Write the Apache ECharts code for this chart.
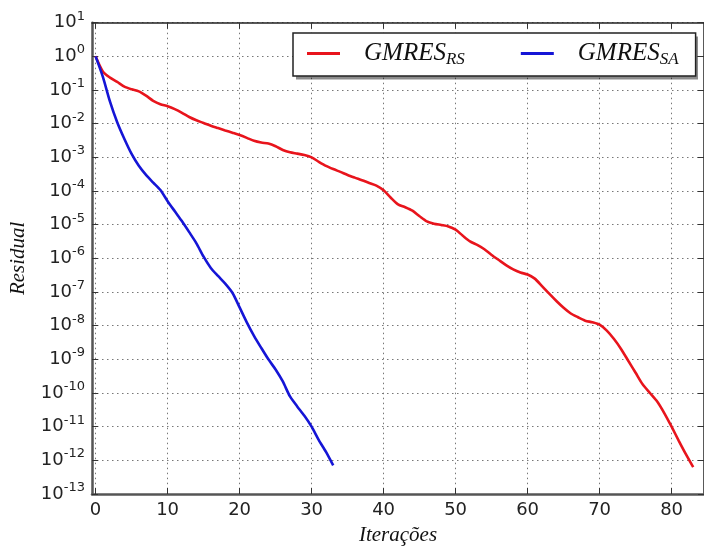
<!DOCTYPE html>
<html>
<head>
<meta charset="utf-8">
<script src="https://cdn.jsdelivr.net/npm/echarts@6/dist/echarts.min.js"></script>
<style>
html,body{margin:0;padding:0;background:#fff;}
#c{width:704px;height:551px;}
</style>
</head>
<body>
<div id="c"></div>
<script>
const iterRS = Array.from({length: 84}, (_, i) => i);
const iterSA = Array.from({length: 34}, (_, i) => i);
const residualRS = [
  1, 0.355, 0.234, 0.174, 0.126, 0.105, 0.091, 0.068, 0.048, 0.038,
  0.033, 0.027, 0.021, 0.0158, 0.0126, 0.0105, 8.7e-3, 7.4e-3, 6.3e-3, 5.4e-3,
  4.6e-3, 3.8e-3, 3.1e-3, 2.75e-3, 2.57e-3, 2.14e-3, 1.66e-3, 1.41e-3, 1.29e-3, 1.17e-3,
  1.0e-3, 7.4e-4, 5.6e-4, 4.5e-4, 3.7e-4, 3.0e-4, 2.5e-4, 2.1e-4, 1.74e-4, 1.45e-4,
  1.05e-4, 6.3e-5, 4.0e-5, 3.3e-5, 2.6e-5, 1.78e-5, 1.26e-5, 1.07e-5, 9.8e-6, 8.9e-6,
  7.1e-6, 4.7e-6, 3.2e-6, 2.5e-6, 1.86e-6, 1.26e-6, 8.9e-7, 6.3e-7, 4.7e-7, 3.8e-7,
  3.3e-7, 2.5e-7, 1.5e-7, 8.9e-8, 5.4e-8, 3.4e-8, 2.3e-8, 1.78e-8, 1.41e-8, 1.26e-8,
  1.07e-8, 7.1e-9, 4.0e-9, 2.0e-9, 8.9e-10, 4.0e-10, 1.78e-10, 1.0e-10, 5.6e-11, 2.5e-11,
  1.0e-11, 3.8e-12, 1.5e-12, 6.3e-13
];
const residualSA = [
  1, 0.25, 0.045, 0.011, 3.5e-3, 1.26e-3, 5.6e-4, 3.0e-4, 1.78e-4, 1.07e-4,
  5.0e-5, 2.5e-5, 1.26e-5, 6.0e-6, 2.8e-6, 1.12e-6, 5.2e-7, 3.0e-7, 1.78e-7, 0.95e-7,
  3.5e-8, 1.26e-8, 5.0e-9, 2.2e-9, 1.0e-9, 5.0e-10, 2.2e-10, 7.9e-11, 4.0e-11, 2.1e-11,
  1.0e-11, 4.0e-12, 1.78e-12, 7.1e-13
];
const xTicks = [0, 10, 20, 30, 40, 50, 60, 70, 80];
const yExponents = [1, 0, -1, -2, -3, -4, -5, -6, -7, -8, -9, -10, -11, -12, -13];
const seriesNames = ['GMRES_RS', 'GMRES_SA'];
const legendLabels = {GMRES_RS: ['GMRES', 'RS'], GMRES_SA: ['GMRES', 'SA']};

const yTickValues = yExponents.map(e => Math.pow(10, e));
const chart = echarts.init(document.getElementById('c'), null, {renderer: 'canvas'});

const gridLine = {show: true, lineStyle: {color: '#777', width: 1, type: [1.5, 3.5]}};
const yLabel = {
  show: true, margin: 7, color: '#222',
  formatter: v => '{b|10}{s|' + Math.round(Math.log10(v)) + '}',
  rich: {
    b: {fontFamily: 'DejaVu Sans', fontSize: 18, color: '#222'},
    s: {fontFamily: 'DejaVu Sans', fontSize: 13, color: '#222', padding: [0, 0, 13, 0]}
  }
};

chart.setOption({
  backgroundColor: '#fff',
  animation: false,
  grid: {left: 90, right: 0, top: 22.7, bottom: 51.7},
  graphic: [{
    type: 'rect', z: 3, silent: true,
    shape: {x: 296, y: 36.5, width: 402, height: 43},
    style: {fill: 'rgba(0,0,0,0.45)'}
  }],
  legend: {
    left: 293, top: 33, z: 4,
    data: seriesNames,
    icon: 'rect', itemWidth: 33, itemHeight: 3, itemGap: 56,
    padding: [8, 17, 8, 14],
    backgroundColor: '#fff', borderColor: '#222', borderWidth: 1.5, borderRadius: 0,
    formatter: name => '{a|' + legendLabels[name][0] + '}{r|' + legendLabels[name][1] + '}',
    textStyle: {
      rich: {
        a: {fontFamily: 'Liberation Serif', fontStyle: 'italic', fontSize: 25, color: '#111', padding: [0, 0, 0, 19]},
        r: {fontFamily: 'Liberation Serif', fontStyle: 'italic', fontSize: 17, color: '#111', padding: [12, 0, 0, 0]}
      }
    }
  },
  xAxis: [{
    type: 'value', min: -0.5, max: 84.5,
    name: 'Iterações', nameLocation: 'middle', nameGap: 31,
    nameTextStyle: {fontFamily: 'Liberation Serif', fontStyle: 'italic', fontSize: 21, color: '#111'},
    axisLine: {show: true, onZero: false, lineStyle: {color: '#555', width: 2.5}},
    axisTick: {show: true, inside: true, length: 6, customValues: xTicks, lineStyle: {color: '#333'}},
    axisLabel: {show: true, customValues: xTicks, margin: 7, fontFamily: 'DejaVu Sans', fontSize: 18, color: '#222'},
    splitLine: gridLine
  }, {
    type: 'value', min: -0.5, max: 84.5, position: 'top',
    axisLine: {show: true, onZero: false, lineStyle: {color: '#222', width: 1.5}},
    axisTick: {show: true, inside: true, length: 6, customValues: xTicks, lineStyle: {color: '#333'}},
    axisLabel: {show: false},
    splitLine: {show: false}
  }],
  yAxis: [{
    type: 'log', logBase: 10, min: 1e-13, max: 10,
    name: 'Residual', nameLocation: 'middle', nameGap: 63, nameRotate: 90,
    nameTextStyle: {fontFamily: 'Liberation Serif', fontStyle: 'italic', fontSize: 21, color: '#111'},
    axisLine: {show: true, onZero: false, lineStyle: {color: '#555', width: 2.5}},
    axisTick: {show: true, inside: true, length: 6, customValues: yTickValues, lineStyle: {color: '#333'}},
    axisLabel: Object.assign({customValues: yTickValues}, yLabel),
    splitLine: gridLine
  }, {
    type: 'log', logBase: 10, min: 1e-13, max: 10, position: 'right',
    axisLine: {show: true, onZero: false, lineStyle: {color: '#222', width: 1.5}},
    axisTick: {show: true, inside: true, length: 6, customValues: yTickValues, lineStyle: {color: '#333'}},
    axisLabel: {show: false},
    splitLine: {show: false}
  }],
  series: [{
    name: seriesNames[0], type: 'line', showSymbol: false, smooth: 0.25,
    data: iterRS.map((x, i) => [x, residualRS[i]]),
    lineStyle: {color: '#e8141c', width: 2.6}, itemStyle: {color: '#e8141c'}
  }, {
    name: seriesNames[1], type: 'line', showSymbol: false, smooth: 0.25,
    data: iterSA.map((x, i) => [x, residualSA[i]]),
    lineStyle: {color: '#1515d6', width: 2.6}, itemStyle: {color: '#1515d6'}
  }]
});
</script>
</body>
</html>
